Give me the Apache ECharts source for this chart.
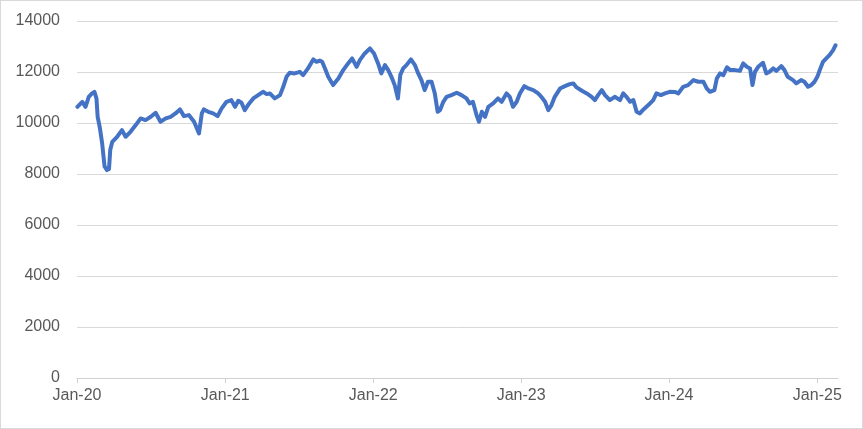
<!DOCTYPE html>
<html>
<head>
<meta charset="utf-8">
<script src="https://cdn.jsdelivr.net/npm/echarts@6/dist/echarts.min.js"></script>
<style>
  html, body { margin: 0; padding: 0; background: #fff; }
  #frame { width: 863px; height: 429px; box-sizing: border-box; border: 1px solid #d9d9d9; position: relative; }
  #chart { position: absolute; left: 0; top: 0; width: 861px; height: 427px; }
</style>
</head>
<body>
<div id="frame"><div id="chart"></div></div>
<script>
const dates = [
'2020-01-02','2020-01-14','2020-01-22','2020-01-30','2020-02-07','2020-02-13','2020-02-18','2020-02-21','2020-02-26','2020-03-03',
'2020-03-09','2020-03-15','2020-03-20','2020-03-23','2020-03-28','2020-04-09','2020-04-21','2020-04-30','2020-05-12','2020-05-25',
'2020-06-06','2020-06-18','2020-07-01','2020-07-13','2020-07-25','2020-08-07','2020-08-19','2020-08-31','2020-09-11','2020-09-21',
'2020-10-03','2020-10-16','2020-10-28','2020-11-04','2020-11-09','2020-11-20','2020-12-02','2020-12-13','2020-12-23','2021-01-04',
'2021-01-16','2021-01-25','2021-02-02','2021-02-10','2021-02-18','2021-02-26','2021-03-11','2021-03-23','2021-04-04','2021-04-13',
'2021-04-21','2021-05-03','2021-05-16','2021-05-24','2021-06-01','2021-06-09','2021-06-21','2021-07-04','2021-07-12','2021-07-24',
'2021-08-06','2021-08-14','2021-08-22','2021-08-28','2021-09-04','2021-09-12','2021-09-24','2021-10-07','2021-10-19','2021-10-31',
'2021-11-10','2021-11-21','2021-11-29','2021-12-11','2021-12-24','2022-01-03','2022-01-13','2022-01-21','2022-01-30','2022-02-07',
'2022-02-15','2022-02-23','2022-03-03','2022-03-09','2022-03-16','2022-03-24','2022-04-04','2022-04-14','2022-04-22','2022-04-30',
'2022-05-08','2022-05-16','2022-05-25','2022-06-02','2022-06-09','2022-06-15','2022-06-23','2022-07-01','2022-07-13','2022-07-26',
'2022-08-07','2022-08-19','2022-08-27','2022-09-04','2022-09-13','2022-09-19','2022-09-26','2022-10-04','2022-10-12','2022-10-24',
'2022-11-05','2022-11-14','2022-11-26','2022-12-04','2022-12-12','2022-12-21','2022-12-29','2023-01-09','2023-01-19','2023-01-31',
'2023-02-12','2023-02-20','2023-03-01','2023-03-09','2023-03-17','2023-03-25','2023-04-07','2023-04-19','2023-05-01','2023-05-10',
'2023-05-18','2023-05-31','2023-06-12','2023-06-24','2023-07-02','2023-07-10','2023-07-19','2023-07-27','2023-08-08','2023-08-20',
'2023-09-02','2023-09-10','2023-09-18','2023-09-27','2023-10-05','2023-10-13','2023-10-21','2023-10-30','2023-11-11','2023-11-23',
'2023-12-01','2023-12-12','2023-12-22','2024-01-03','2024-01-15','2024-01-24','2024-02-05','2024-02-17','2024-03-01','2024-03-13',
'2024-03-26','2024-04-03','2024-04-11','2024-04-22','2024-04-28','2024-05-06','2024-05-14','2024-05-23','2024-05-31','2024-06-12',
'2024-06-24','2024-07-02','2024-07-11','2024-07-19','2024-07-25','2024-07-31','2024-08-08','2024-08-20','2024-08-28','2024-09-05',
'2024-09-14','2024-09-22','2024-10-04','2024-10-12','2024-10-20','2024-11-02','2024-11-10','2024-11-22','2024-11-30','2024-12-09',
'2024-12-17','2024-12-25','2025-01-01','2025-01-07','2025-01-15','2025-01-23','2025-01-31','2025-02-09','2025-02-15'
];
const values = [
10635,10830,10635,11027,11160,11223,10965,10243,9850,9212,
8300,8154,8200,8938,9263,9460,9722,9460,9655,9918,
10180,10114,10243,10400,10048,10180,10243,10376,10533,10270,
10310,10048,9590,10376,10533,10440,10376,10270,10572,10832,
10898,10635,10870,10792,10506,10702,10964,11094,11223,11133,
11160,10964,11094,11420,11810,11968,11944,12007,11878,12140,
12493,12400,12450,12400,12140,11811,11486,11748,12074,12336,
12532,12203,12466,12728,12924,12728,12336,11944,12270,12074,
11811,11486,10964,11900,12140,12270,12493,12270,11944,11682,
11290,11617,11617,11160,10440,10506,10832,11027,11094,11185,
11094,10964,10768,10832,10310,10048,10440,10243,10635,10768,
10964,10832,11160,11027,10635,10832,11160,11446,11356,11290,
11160,11027,10832,10506,10702,11027,11350,11446,11525,11553,
11396,11263,11160,11027,10898,11094,11290,11094,10898,11027,
10898,11160,11027,10832,10898,10440,10376,10533,10702,10898,
11160,11094,11160,11223,11220,11160,11420,11486,11682,11617,
11617,11356,11223,11290,11748,11944,11878,12180,12074,12074,
12046,12336,12203,12140,11486,12007,12203,12360,11944,12007,
12140,12046,12230,12074,11811,11682,11553,11682,11617,11420,
11486,11617,11811,12074,12400,12532,12663,12860,13050
];
const yTicks = [0, 2000, 4000, 6000, 8000, 10000, 12000, 14000];
const xStart = '2020-01-01';
const xEnd = '2025-02-21';

const chart = echarts.init(document.getElementById('chart'), null, { renderer: 'canvas' });
const YEAR = 365 * 24 * 3600 * 1000;
chart.setOption({
  animation: false,
  grid: { left: 76, right: 24, top: 20, bottom: 50, containLabel: false },
  xAxis: {
    type: 'time',
    min: xStart,
    max: xEnd,
    minInterval: YEAR,
    maxInterval: YEAR * 1.01,
    axisLine: { show: true, lineStyle: { color: '#d0d0d0', width: 1 } },
    axisTick: { show: true, length: 5, lineStyle: { color: '#d0d0d0' } },
    splitLine: { show: false },
    axisLabel: {
      color: '#595959',
      fontFamily: 'Liberation Sans, Arial, sans-serif',
      fontSize: 16,
      margin: 10,
      hideOverlap: false,
      formatter: function (val) {
        const d = new Date(val);
        if (d.getMonth() === 0 && d.getDate() === 1) {
          return 'Jan-' + String(d.getFullYear()).slice(2);
        }
        return '';
      }
    }
  },
  yAxis: {
    type: 'value',
    min: yTicks[0],
    max: yTicks[yTicks.length - 1],
    interval: 2000,
    axisLine: { show: false },
    axisTick: { show: false },
    splitLine: { show: true, lineStyle: { color: '#d9d9d9', width: 1 } },
    axisLabel: {
      color: '#595959',
      fontFamily: 'Liberation Sans, Arial, sans-serif',
      fontSize: 16,
      margin: 17,
      formatter: function (v) { return String(v); }
    }
  },
  series: [{
    type: 'line',
    data: dates.map((d, i) => [d, values[i]]),
    showSymbol: false,
    symbol: 'none',
    lineStyle: { color: '#4472C4', width: 4, join: 'round', cap: 'round' },
    itemStyle: { color: '#4472C4' }
  }]
});
</script>
</body>
</html>
